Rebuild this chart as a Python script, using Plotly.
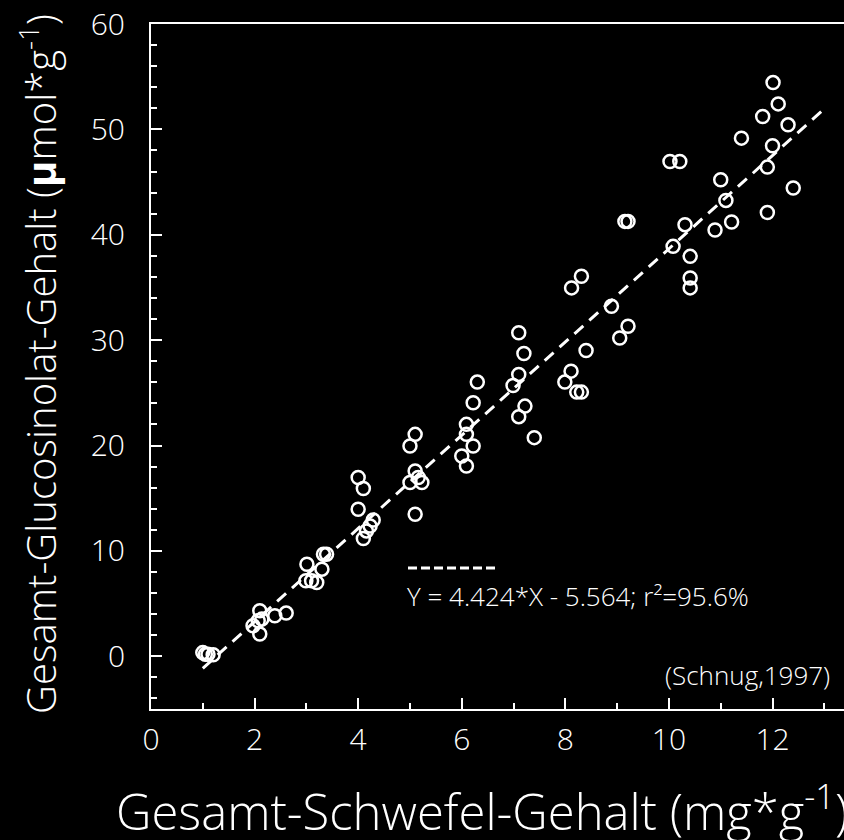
import plotly.graph_objects as go

# Data
schwefel = [1.0, 1.05, 1.1, 1.2,
            2.10, 1.97, 2.07, 2.14, 2.10, 2.39, 2.61,
            3.01, 3.33, 3.39, 3.30, 2.99, 3.10, 3.20,
            4.00, 4.10, 4.00, 4.29, 4.23, 4.16, 4.10,
            5.10, 5.00, 5.10, 5.00, 5.16, 5.23, 5.10,
            6.22, 6.09, 6.09, 6.22, 6.00, 6.09, 6.30,
            7.10, 7.20, 7.10, 6.99, 7.22, 7.10, 7.40,
            8.11, 7.99, 8.22, 8.31, 8.40, 8.89, 9.05, 8.31, 8.12, 9.15, 9.21, 9.21,
            10.08, 10.31, 10.41, 10.41, 10.41, 10.89,
            10.02, 10.21, 11.40, 12.01, 12.11, 11.81, 12.30, 12.00, 11.90, 12.40, 11.90,
            11.00, 11.10, 11.21]
glucosinolat = [0.35, 0.2, 0.2, 0.15,
                4.32, 2.90, 3.37, 3.53, 2.11, 3.85, 4.10,
                8.74, 9.69, 9.69, 8.27, 7.16, 7.16, 7.01,
                16.96, 15.92, 13.96, 12.94, 12.37, 11.90, 11.18,
                21.06, 19.95, 17.58, 16.49, 16.96, 16.49, 13.48,
                24.06, 22.01, 21.06, 19.95, 19.01, 18.06, 26.02,
                30.70, 28.74, 26.75, 25.70, 23.74, 22.74, 20.75,
                27.06, 26.02, 25.07, 25.07, 29.02, 33.22, 30.20, 36.06, 34.96, 41.27, 41.27, 31.32,
                38.90, 40.96, 37.95, 35.90, 34.96, 40.45,
                46.95, 46.95, 49.17, 54.44, 52.42, 51.22, 50.43, 48.44, 46.42, 44.43, 42.12,
                45.22, 43.26, 41.21]

slope = 4.424
intercept = -5.564
fit_x = [1.0, 13.0]
fit_y = [slope * v + intercept for v in fit_x]

x_tickvals = [0, 2, 4, 6, 8, 10, 12]
y_tickvals = [0, 10, 20, 30, 40, 50, 60]

equation_text = "Y = 4.424*X - 5.564; r²=95.6%"
source_text = "(Schnug,1997)"
x_title = "Gesamt-Schwefel-Gehalt (mg*g<sup>-1</sup>)"
y_title = "Gesamt-Glucosinolat-Gehalt (<b>µ</b>mol*g<sup>-1</sup>)"

FONT = "Open Sans"
WEIGHT = 300
W, H = 844, 840
L, R, T, B = 151, 0, 24, 131
pw = W - L - R
ph = H - T - B


def px_x(p):
    return (p - L) / pw


def px_y(p):
    return (H - B - p) / ph


fig = go.Figure()
fig.add_trace(go.Scatter(
    x=fit_x, y=fit_y, mode="lines",
    line=dict(color="white", width=3, dash="12px,8px"),
    hoverinfo="skip", showlegend=False))
fig.add_trace(go.Scatter(
    x=schwefel, y=glucosinolat, mode="markers",
    marker=dict(symbol="circle-open", size=13, color="white",
                line=dict(color="white", width=2.5)),
    showlegend=False))

axis_common = dict(
    showgrid=False, zeroline=False, showline=True, linecolor="white", linewidth=2,
    ticks="inside", tickcolor="white", tickwidth=2, ticklen=11,
    tickfont=dict(family=FONT, size=30, color="white", weight=WEIGHT),
)

fig.update_xaxes(range=[0, 13.38], tickvals=x_tickvals, mirror=True,
                 minor=dict(dtick=1, ticks="inside", ticklen=6, tickwidth=2, tickcolor="white"),
                 ticklabelstandoff=3, **axis_common)
fig.update_yaxes(range=[-5, 60], tickvals=y_tickvals,
                 minor=dict(dtick=2, ticks="inside", ticklen=6, tickwidth=2, tickcolor="white"),
                 ticklabelstandoff=18, **axis_common)

fig.add_shape(type="line", xref="paper", yref="paper",
              x0=px_x(408), x1=px_x(498), y0=px_y(568), y1=px_y(568),
              line=dict(color="white", width=3, dash="9px,4px"))

fig.add_annotation(text=equation_text, xref="paper", yref="paper",
                   x=px_x(405), y=px_y(596), xanchor="left", yanchor="middle",
                   showarrow=False, font=dict(family=FONT, size=26, color="white", weight=WEIGHT))
fig.add_annotation(text=source_text, xref="paper", yref="paper",
                   x=px_x(832), y=px_y(675), xanchor="right", yanchor="middle",
                   showarrow=False, font=dict(family=FONT, size=26, color="white", weight=WEIGHT))
fig.add_annotation(text=x_title, xref="paper", yref="paper",
                   x=px_x(114), y=px_y(808), xanchor="left", yanchor="middle",
                   showarrow=False, font=dict(family=FONT, size=49, color="white", weight=WEIGHT))
fig.add_annotation(text=y_title, xref="paper", yref="paper",
                   x=px_x(38), y=px_y(716), xanchor="center", yanchor="bottom",
                   textangle=-90, showarrow=False,
                   font=dict(family=FONT, size=40, color="white", weight=WEIGHT))

fig.update_layout(
    width=W, height=H,
    margin=dict(l=L, r=R, t=T, b=B),
    paper_bgcolor="black", plot_bgcolor="black",
    font=dict(family=FONT, color="white", weight=WEIGHT),
    showlegend=False,
)

fig.write_html("out.html", config={"displayModeBar": False},
               post_script="document.body.style.margin='0';document.body.style.background='black';")
